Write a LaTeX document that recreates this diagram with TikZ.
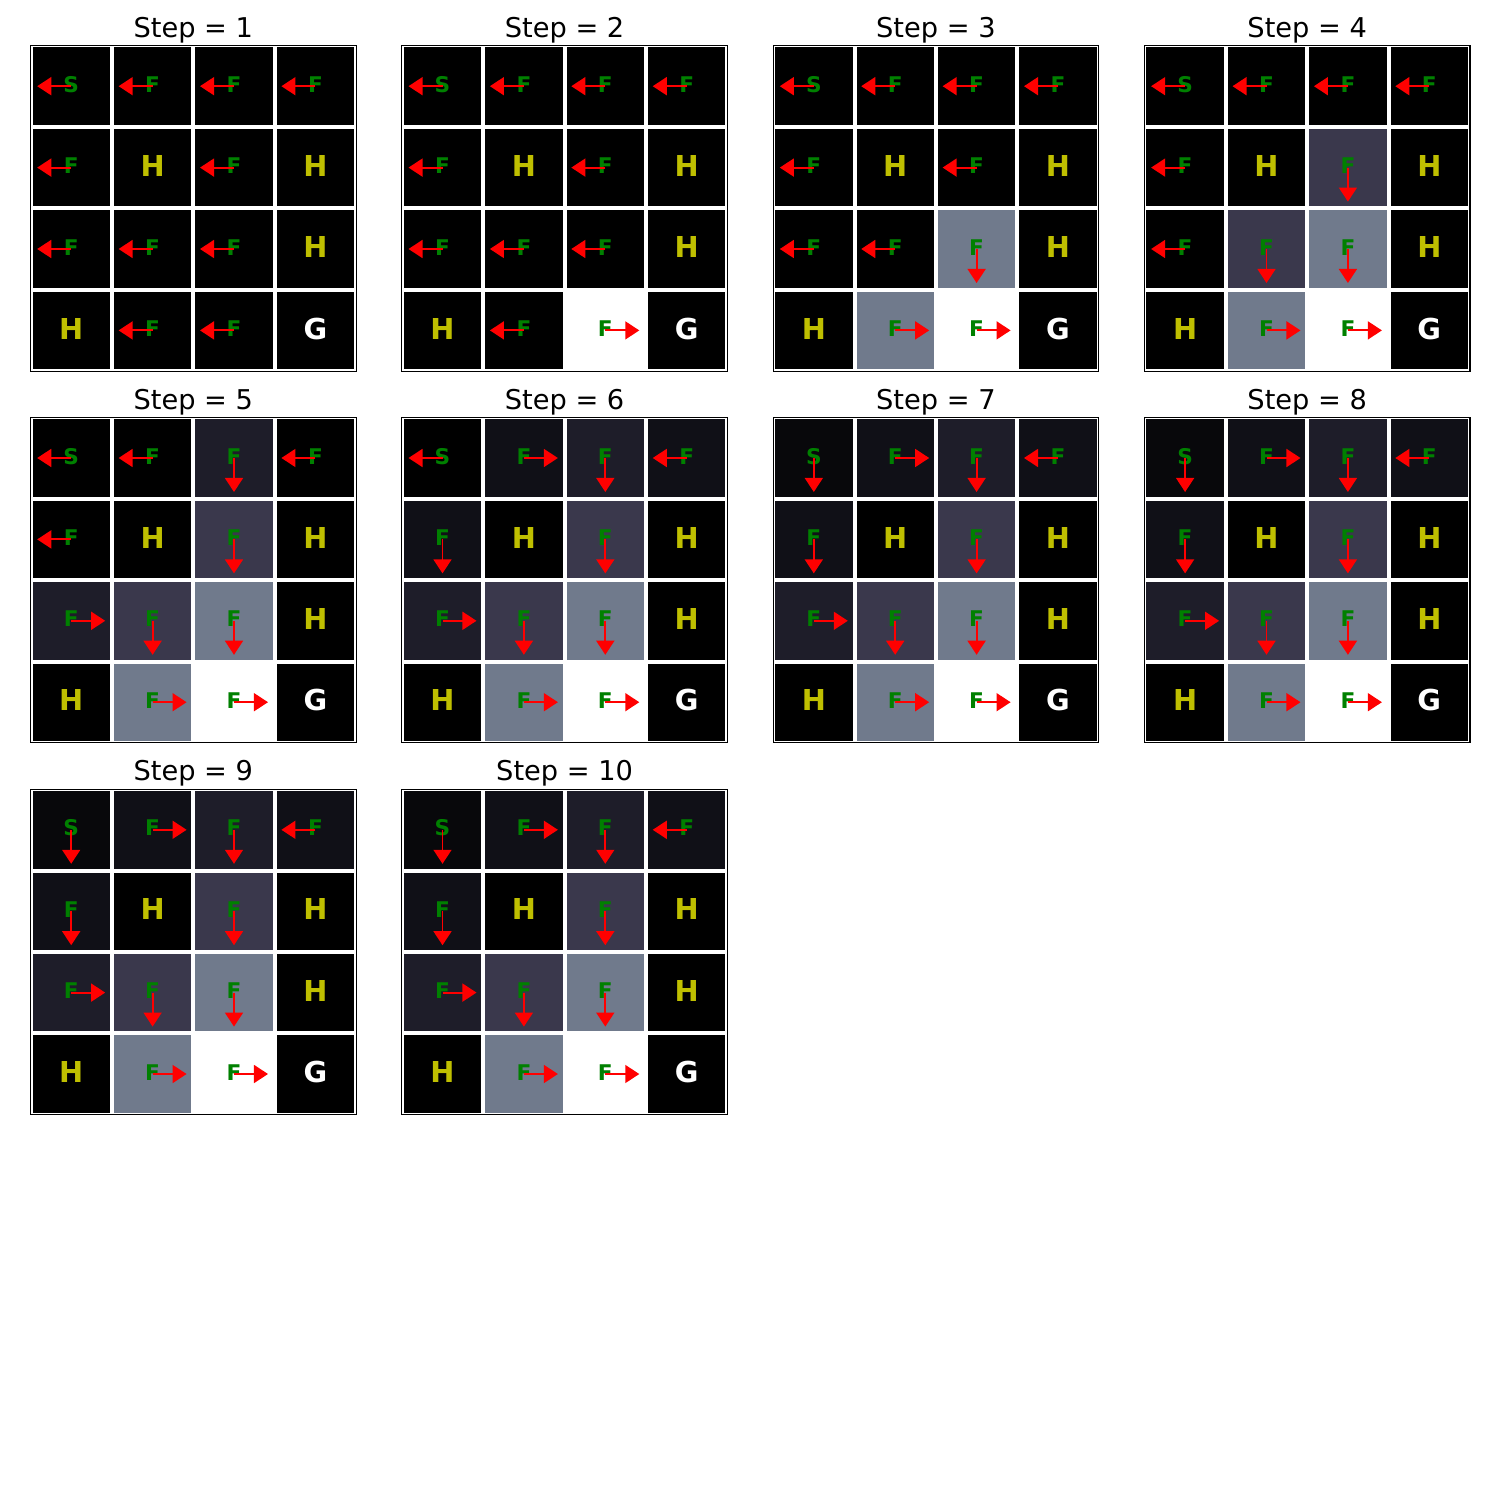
\documentclass[tikz,border=0pt]{standalone}
\usepackage{fontspec}
\setmainfont{DejaVu Sans}
\usetikzlibrary{arrows.meta}

% value shades (dark -> light)
\definecolor{shadek}{HTML}{000000}
\definecolor{shadea}{HTML}{08080B}
\definecolor{shadeb}{HTML}{101017}
\definecolor{shadec}{HTML}{1E1D29}
\definecolor{shadep}{HTML}{3A384C}
\definecolor{shadeg}{HTML}{707A8C}
\definecolor{shadew}{HTML}{FFFFFF}
\definecolor{tilegreen}{HTML}{008000}
\definecolor{holeyellow}{HTML}{BFBF00}

% letters of the 4x4 lake
\newcommand{\tilename}[1]{\ifcase#1 S\or F\or F\or F\or F\or H\or F\or H\or F\or F\or F\or H\or H\or F\or F\or G\fi}

\tikzset{
  tile S/.style={font=\bfseries\fontsize{12.3}{14}\selectfont, text=tilegreen, inner sep=0pt},
  tile F/.style={tile S},
  tile H/.style={font=\bfseries\fontsize{16.4}{18}\selectfont, text=holeyellow, inner sep=0pt},
  tile G/.style={tile H, text=white},
  steptitle/.style={font=\fontsize{15.5}{18}\selectfont, inner sep=0pt},
  panelframe/.style={draw=black, line width=0.6pt},
  moveto/.style={-{Triangle[length=8pt,width=10.2pt]}, red, line width=1.1pt},
}

\begin{document}
\begin{tikzpicture}[x=0.02cm, y=-0.02cm]

  % --- 1. page ---
  \useasboundingbox (0,0) rectangle (1500,1500);

  % --- 2. panels: step / (shade/direction of each cell) ---
  \foreach \n/\cells in {
    1/{k/l,k/l,k/l,k/l, k/l,k/n,k/l,k/n, k/l,k/l,k/l,k/n, k/n,k/l,k/l,k/n},
    2/{k/l,k/l,k/l,k/l, k/l,k/n,k/l,k/n, k/l,k/l,k/l,k/n, k/n,k/l,w/r,k/n},
    3/{k/l,k/l,k/l,k/l, k/l,k/n,k/l,k/n, k/l,k/l,g/d,k/n, k/n,g/r,w/r,k/n},
    4/{k/l,k/l,k/l,k/l, k/l,k/n,p/d,k/n, k/l,p/d,g/d,k/n, k/n,g/r,w/r,k/n},
    5/{k/l,k/l,c/d,k/l, k/l,k/n,p/d,k/n, c/r,p/d,g/d,k/n, k/n,g/r,w/r,k/n},
    6/{k/l,b/r,c/d,b/l, b/d,k/n,p/d,k/n, c/r,p/d,g/d,k/n, k/n,g/r,w/r,k/n},
    7/{a/d,b/r,c/d,b/l, b/d,k/n,p/d,k/n, c/r,p/d,g/d,k/n, k/n,g/r,w/r,k/n},
    8/{a/d,b/r,c/d,b/l, b/d,k/n,p/d,k/n, c/r,p/d,g/d,k/n, k/n,g/r,w/r,k/n},
    9/{a/d,b/r,c/d,b/l, b/d,k/n,p/d,k/n, c/r,p/d,g/d,k/n, k/n,g/r,w/r,k/n},
    10/{a/d,b/r,c/d,b/l, b/d,k/n,p/d,k/n, c/r,p/d,g/d,k/n, k/n,g/r,w/r,k/n}} {

    \pgfmathsetmacro\xo{30.5+mod(\n-1,4)*371.3}
    \pgfmathsetmacro\yo{45.5+floor((\n-1)/4)*371.8}

    % title
    \node[steptitle, anchor=base] (t\n) at (\xo+162.8, \yo-8.2) {Step = \n};

    % cells
    \foreach \shd/\dir [count=\i from 0] in \cells {
      \pgfmathsetmacro\cx{\xo+(mod(\i,4)+0.5)*81.4}
      \pgfmathsetmacro\cy{\yo+(floor(\i/4)+0.5)*81.4}
      \fill[shade\shd] (\cx-38.7,\cy-38.7) rectangle (\cx+38.7,\cy+38.7);
      \coordinate (o\n-\i) at (\cx,\cy);
      \edef\tl{\tilename{\i}}
      \node[tile \tl] (c\n-\i) at (\cx,\cy-1.8) {\tl};
      \if\dir l \def\ox{-34}\def\oy{0}\fi
      \if\dir r \def\ox{34}\def\oy{0}\fi
      \if\dir d \def\ox{0}\def\oy{34}\fi
      \if\dir n\else
        \draw[moveto] (o\n-\i) -- ++(\ox,\oy);
      \fi
    }

    % frame
    \draw[panelframe] (\xo,\yo) rectangle ++(325.6,325.6);
  }

\end{tikzpicture}
\end{document}
